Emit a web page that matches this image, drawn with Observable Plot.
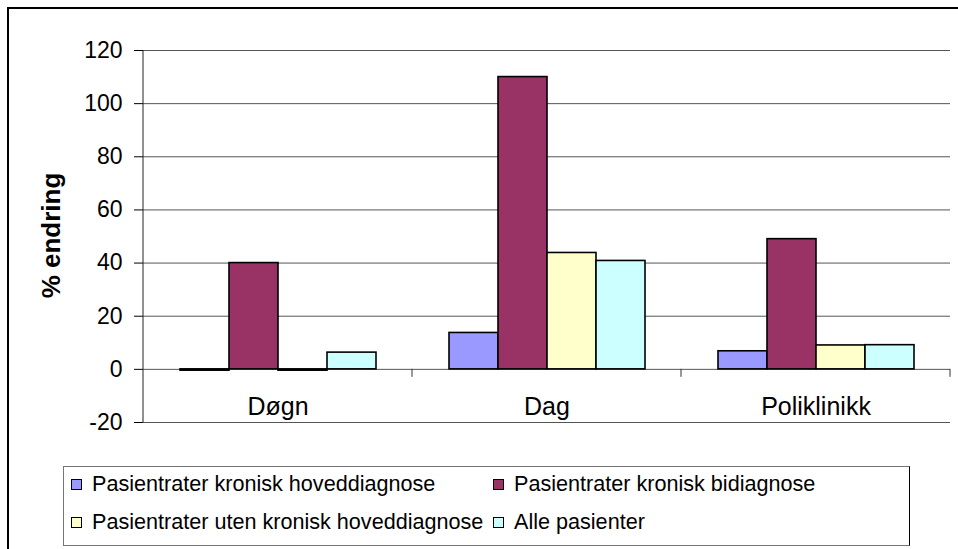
<!DOCTYPE html>
<html>
<head>
<meta charset="utf-8">
<script src="https://cdn.jsdelivr.net/npm/d3@7"></script>
<script src="https://cdn.jsdelivr.net/npm/@observablehq/plot@0.6"></script>
<style>
  html, body { margin: 0; padding: 0; background: #fff; }
  #wrap { position: relative; width: 958px; height: 549px; overflow: hidden; background: #fff;
          font-family: "Liberation Sans", Arial, sans-serif; color: #000; }
  #chart { position: absolute; left: 0; top: 0; }
  #border { position: absolute; left: 7px; top: 7px; width: 1200px; height: 1200px;
            border-top: 2px solid #000; border-left: 2px solid #000; pointer-events: none; }
  #legend { position: absolute; left: 63px; top: 466px; width: 847px; height: 80px; box-sizing: border-box;
            border: 1px solid #777; border-right-color: #000; background: #fff; }
  .item { position: absolute; height: 26px; display: flex; align-items: center; font-size: 21.6px; white-space: nowrap; }
  .sw { width: 9px; height: 9px; border: 1px solid #000; margin-right: 10px; flex: none; }
</style>
</head>
<body>
<div id="wrap">
  <div id="chart"></div>
  <div id="legend"></div>
  <div id="border"></div>
</div>
<script>
const categories = ["Døgn", "Dag", "Poliklinikk"];
const series = [
  "Pasientrater kronisk hoveddiagnose",
  "Pasientrater kronisk bidiagnose",
  "Pasientrater uten kronisk hoveddiagnose",
  "Alle pasienter"
];
const colors = ["#9999FF", "#993366", "#FFFFCC", "#CCFFFF"];
const valuesKroniskHoved = [-0.5, 13.7, 6.8];
const valuesKroniskBi = [40, 110, 49];
const valuesUtenKroniskHoved = [-0.5, 43.8, 9.0];
const valuesAlle = [6.3, 40.8, 9.1];
const yTicks = [-20, 0, 20, 40, 60, 80, 100, 120];
const yLabel = "% endring";

const seriesValues = [valuesKroniskHoved, valuesKroniskBi, valuesUtenKroniskHoved, valuesAlle];
const rows = [];
categories.forEach((cat, ci) => {
  series.forEach((s, si) => rows.push({cat, series: s, value: seriesValues[si][ci]}));
});

const gridColor = "#555";

function axisLines(index, scales, values, dimensions) {
  const ns = "http://www.w3.org/2000/svg";
  const g = document.createElementNS(ns, "g");
  const {fx, y} = scales;
  const {marginLeft, marginTop, marginBottom, height} = dimensions;
  const line = (x1, y1, x2, y2, stroke) => {
    const l = document.createElementNS(ns, "line");
    l.setAttribute("x1", x1); l.setAttribute("y1", y1);
    l.setAttribute("x2", x2); l.setAttribute("y2", y2);
    l.setAttribute("stroke", stroke);
    l.setAttribute("stroke-width", 1);
    g.appendChild(l);
  };
  line(marginLeft, marginTop, marginLeft, height - marginBottom, "#222");
  if (fx && y) {
    for (const c of categories) {
      const xr = fx(c) + fx.bandwidth();
      line(xr, y(0), xr, y(0) + 8, "#333");
    }
  }
  return g;
}

const chart = Plot.plot({
  width: 958,
  height: 549,
  marginLeft: 142,
  marginRight: 7,
  marginTop: 50,
  marginBottom: 127,
  style: {fontFamily: "'Liberation Sans', Arial, sans-serif", fontSize: "23px", color: "#000", background: "transparent", overflow: "visible"},
  fx: {domain: categories, padding: 0, axis: null, label: null},
  x: {domain: series, paddingInner: 0, paddingOuter: 0.738, axis: null},
  y: {domain: [-20, 120], label: null},
  color: {domain: series, range: colors},
  marks: [
    Plot.gridY(yTicks, {stroke: gridColor, strokeOpacity: 1}),
    Plot.axisY(yTicks, {tickSize: 9, tickPadding: 12, fontSize: 23, label: null, tickFormat: d => String(d)}),
    Plot.barY(rows, {fx: "cat", x: "series", y: "value", fill: "series", stroke: "#000", strokeWidth: 1.6}),
    Plot.text(categories, {fx: d => d, text: d => d, y: () => 0, dy: 38, fontSize: 25}),
    Plot.text([yLabel], {fx: () => categories[0], text: d => d, frameAnchor: "left", textAnchor: "middle", dx: -92, dy: -1, rotate: -90, fontSize: 26, fontWeight: "bold"}),
    Plot.frame({facet: "super", stroke: "none", render: axisLines})
  ]
});
document.getElementById("chart").appendChild(chart);

const legend = document.getElementById("legend");
series.forEach((s, i) => {
  const col = i % 2, row = Math.floor(i / 2);
  const item = document.createElement("div");
  item.className = "item";
  item.style.left = (7 + col * 422) + "px";
  item.style.top = (4 + row * 38) + "px";
  const sw = document.createElement("span");
  sw.className = "sw";
  sw.style.background = colors[i];
  const t = document.createElement("span");
  t.textContent = s;
  item.appendChild(sw);
  item.appendChild(t);
  legend.appendChild(item);
});
</script>
</body>
</html>
